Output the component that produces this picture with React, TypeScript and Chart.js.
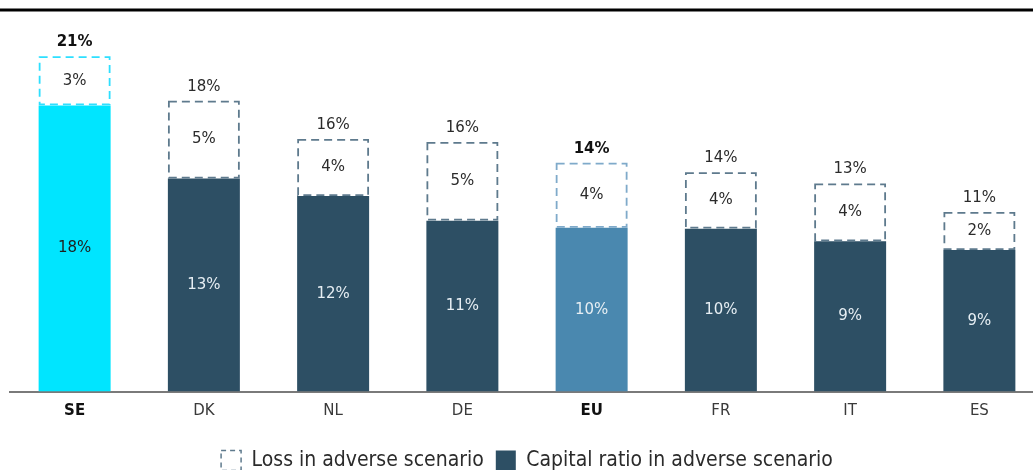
import React, { useEffect, useRef } from "react";
import { Chart, registerables } from "chart.js";

Chart.register(...registerables);

const categories = ["SE", "DK", "NL", "DE", "EU", "FR", "IT", "ES"];
const capitalRatio = [18.0, 13.4, 12.3, 10.75, 10.3, 10.25, 9.45, 8.9];
const lossAdverse = [3.1, 4.9, 3.6, 4.95, 4.1, 3.55, 3.65, 2.4];
const highlighted = ["SE", "EU"];

const FONT = "'DejaVu Sans', sans-serif";
const LEGEND_FONT = "'DejaVu Sans Condensed', 'DejaVu Sans', sans-serif";
const DARK = "#2D4F64";
const capitalColors = categories.map((c) => (c === "SE" ? "#00E5FF" : c === "EU" ? "#4A88AF" : DARK));
const dashColors = categories.map((c) => (c === "SE" ? "#2EDFFF" : c === "EU" ? "#7FAACA" : "#5E7A8D"));
const insideTextColors = categories.map((c) => (c === "SE" ? "#1E1E1E" : "#E6EEF3"));

const pct = (v: number) => `${Math.round(v)}%`;

const decoPlugin = {
  id: "deco",
  beforeDraw(chart: any) {
    const { ctx, chartArea, width } = chart;
    ctx.save();
    ctx.fillStyle = "#000";
    ctx.fillRect(0, chartArea.top - 1.5, width, 3);
    ctx.restore();
  },
  afterDatasetsDraw(chart: any) {
    const { ctx } = chart;
    const m0 = chart.getDatasetMeta(0);
    const m1 = chart.getDatasetMeta(1);
    ctx.save();
    ctx.textAlign = "center";
    ctx.textBaseline = "middle";
    m1.data.forEach((el: any, i: number) => {
      const half = el.width / 2;
      const left = el.x - half + 1;
      const right = el.x + half - 1;
      const top = el.y + 1;
      const bottom = el.base - 1;
      ctx.setLineDash([8, 5]);
      ctx.lineWidth = 1.8;
      ctx.strokeStyle = dashColors[i];
      ctx.strokeRect(left, top, right - left, bottom - top);
      ctx.setLineDash([]);
      ctx.fillStyle = "#2B2B2B";
      ctx.font = `15px ${FONT}`;
      ctx.fillText(pct(lossAdverse[i]), el.x, (el.y + el.base) / 2);
      const bold = highlighted.includes(categories[i]);
      ctx.font = `${bold ? "bold " : ""}15px ${FONT}`;
      ctx.fillStyle = bold ? "#111" : "#2B2B2B";
      ctx.fillText(pct(capitalRatio[i] + lossAdverse[i]), el.x, el.y - 14);
    });
    m0.data.forEach((el: any, i: number) => {
      ctx.fillStyle = insideTextColors[i];
      ctx.font = `15px ${FONT}`;
      ctx.fillText(pct(capitalRatio[i]), el.x, (el.y + el.base) / 2);
    });
    ctx.restore();
  },
};

export default function App() {
  const ref = useRef<HTMLCanvasElement>(null);
  useEffect(() => {
    if (!ref.current) return;
    const chart = new Chart(ref.current, {
      type: "bar",
      data: {
        labels: categories,
        datasets: [
          {
            label: "Capital ratio in adverse scenario",
            data: capitalRatio,
            backgroundColor: capitalColors,
            borderWidth: 0,
            categoryPercentage: 1,
            barPercentage: 0.557,
          },
          {
            label: "Loss in adverse scenario",
            data: lossAdverse,
            backgroundColor: "rgba(255,255,255,0)",
            borderWidth: 0,
            categoryPercentage: 1,
            barPercentage: 0.557,
          },
        ],
      },
      options: {
        responsive: false,
        animation: false,
        devicePixelRatio: 1,
        layout: { padding: { left: 10, top: 10, right: 0, bottom: 0 } },
        scales: {
          x: {
            stacked: true,
            grid: { display: false, drawTicks: false },
            border: { display: true, color: "#7A7A7A", width: 2 },
            ticks: {
              padding: 11,
              color: (c: any) => (highlighted.includes(categories[c.index]) ? "#111" : "#3A3A3A"),
              font: (c: any) => ({
                family: FONT,
                size: 15,
                weight: highlighted.includes(categories[c.index]) ? "bold" : "normal",
              }),
            },
          },
          y: { stacked: true, display: false, min: 0, max: 24 },
        },
        plugins: {
          tooltip: { enabled: false },
          legend: {
            position: "bottom",
            title: { display: true, text: "", font: { size: 1 }, padding: { top: 5.2, bottom: 0 } },
            labels: {
              boxWidth: 20,
              boxHeight: 20,
              padding: 12,
              color: "#2B2B2B",
              font: { family: LEGEND_FONT, size: 21 },
              generateLabels: () => [
                {
                  text: "Loss in adverse scenario",
                  fillStyle: "#FFFFFF",
                  strokeStyle: "#5E7A8D",
                  fontColor: "#2B2B2B",
                  lineWidth: 1.5,
                  lineDash: [5, 4],
                  datasetIndex: 1,
                  hidden: false,
                },
                {
                  text: "Capital ratio in adverse scenario",
                  fillStyle: DARK,
                  strokeStyle: DARK,
                  fontColor: "#2B2B2B",
                  lineWidth: 0,
                  datasetIndex: 0,
                  hidden: false,
                },
              ],
            },
          },
        },
      },
      plugins: [decoPlugin],
    } as any);
    return () => chart.destroy();
  }, []);
  return (
    <div style={{ position: "fixed", left: 0, top: 0, width: 1033, height: 470, overflow: "hidden", background: "#fff" }}>
      <canvas ref={ref} width={1044} height={481} style={{ width: 1044, height: 481, display: "block" }} />
    </div>
  );
}
